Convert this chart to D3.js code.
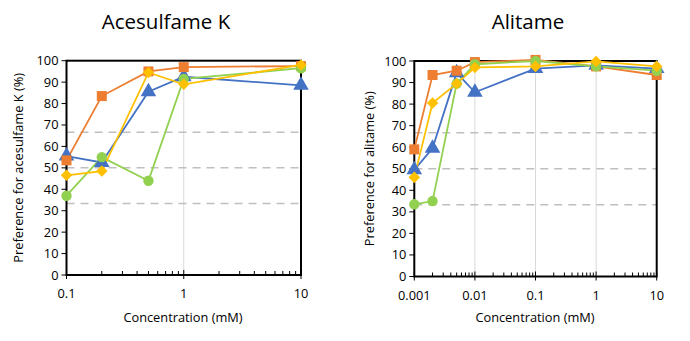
<!DOCTYPE html>
<html><head><meta charset="utf-8">
<script src="https://cdn.jsdelivr.net/npm/d3@7"></script>
<style>body{margin:0;background:#fff}svg{display:block}text{font-family:"Open Sans",sans-serif;fill:#000}</style>
</head><body>
<svg id="c" width="690" height="341"></svg>
<script>
const seriesNames = ["blue","orange","green","yellow"];
const colors = ["#4472C4","#ED7D31","#92D050","#FFC000"];
const shapes = ["triangle","square","circle","diamond"];
const refLines = [33.33, 50, 66.67];
const yTicks = [0,10,20,30,40,50,60,70,80,90,100];

const aceX = [0.1, 0.2, 0.5, 1, 10];
const aceBlue = [55.5, 52.5, 85.5, 92.5, 88.5];
const aceOrange = [53.5, 83.5, 95, 97, 97.5];
const aceGreen = [37, 55, 44, 91.5, 96.5];
const aceYellow = [46.5, 48.5, 94.5, 89, 98];
const aceXTicks = [0.1, 1, 10];

const aliX = [0.001, 0.002, 0.005, 0.01, 0.1, 1, 10];
const aliBlue = [49.5, 59.5, 94.5, 85.5, 96.5, 98, 96.5];
const aliOrange = [59, 93.5, 95.5, 99.5, 100.5, 97.5, 93.5];
const aliGreen = [33.5, 35, 89.5, 98.5, 100, 97.5, 95.5];
const aliYellow = [46, 80.5, 89.5, 97, 97.5, 99.8, 97.5];
const aliXTicks = [0.001, 0.01, 0.1, 1, 10];

const svg = d3.select("#c");
const fmt = d => (d >= 1 ? d3.format("d")(d) : String(d));
const FS = 12.8;

function chart(cfg){
  const {x0,x1,y0,y1,xs,series,xTicks,title,titleX,ylabel,ylabX,xlabX} = cfg;
  const g = svg.append("g");
  const x = d3.scaleLog().domain(d3.extent(xTicks)).range([x0,x1]);
  const y = d3.scaleLinear().domain([0,100]).range([y1,y0]);
  g.selectAll(".vg").data(xTicks.slice(1,-1)).join("line")
    .attr("x1",d=>x(d)).attr("x2",d=>x(d)).attr("y1",y0).attr("y2",y1)
    .attr("stroke","#d9d9d9").attr("stroke-width",1);
  g.selectAll(".rl").data(refLines).join("line")
    .attr("x1",x0).attr("x2",x1).attr("y1",d=>y(d)).attr("y2",d=>y(d))
    .attr("stroke","#bfbfbf").attr("stroke-width",1.5).attr("stroke-dasharray","8,6");
  const lo = Math.log10(xTicks[0]), hi = Math.log10(xTicks[xTicks.length-1]);
  const minor = [];
  for(let e=lo;e<hi;e++){ for(let m=2;m<=9;m++) minor.push(m*Math.pow(10,e)); }
  g.selectAll(".mt").data(minor).join("line")
    .attr("x1",d=>x(d)).attr("x2",d=>x(d)).attr("y1",y1).attr("y2",y1-4)
    .attr("stroke","#000").attr("stroke-width",1);
  g.selectAll(".Mt").data(xTicks).join("line")
    .attr("x1",d=>x(d)).attr("x2",d=>x(d)).attr("y1",y1+4).attr("y2",y1-5)
    .attr("stroke","#000").attr("stroke-width",1);
  g.selectAll(".yt").data(yTicks).join("line")
    .attr("x1",x0-5).attr("x2",x0).attr("y1",d=>y(d)).attr("y2",d=>y(d))
    .attr("stroke","#000").attr("stroke-width",1);
  g.selectAll(".yl").data(yTicks).join("text")
    .attr("x",x0-8).attr("y",d=>y(d)+4.5).attr("text-anchor","end")
    .attr("font-size",FS).text(d=>d);
  g.selectAll(".xl").data(xTicks).join("text")
    .attr("x",d=>x(d)).attr("y",y1+23).attr("text-anchor","middle")
    .attr("font-size",FS).text(fmt);
  g.append("rect").attr("x",x0).attr("y",y0).attr("width",x1-x0).attr("height",y1-y0)
    .attr("fill","none").attr("stroke","#000").attr("stroke-width",2);
  const line = d3.line().x(d=>x(d[0])).y(d=>y(d[1]));
  series.forEach((vals,i)=>{
    const pts = xs.map((xv,j)=>[xv,vals[j]]);
    g.append("path").datum(pts).attr("d",line).attr("fill","none")
      .attr("stroke",colors[i]).attr("stroke-width",1.8);
  });
  series.forEach((vals,i)=>{
    const pts = xs.map((xv,j)=>[xv,vals[j]]);
    const sym = {triangle:d3.symbolTriangle,square:d3.symbolSquare,circle:d3.symbolCircle,diamond:d3.symbolDiamond2}[shapes[i]];
    const size = {triangle:105,square:100,circle:85,diamond:85}[shapes[i]];
    g.selectAll(null).data(pts).join("path")
      .attr("transform",d=>`translate(${x(d[0])},${y(d[1])})`)
      .attr("d",d3.symbol(sym,size)()).attr("fill",colors[i]);
  });
  g.append("text").attr("x",titleX).attr("y",29).attr("text-anchor","middle")
    .attr("font-size",20.5).text(title);
  g.append("text").attr("transform",`translate(${ylabX},${(y0+y1)/2}) rotate(-90)`)
    .attr("text-anchor","middle").attr("font-size",FS).text(ylabel);
  g.append("text").attr("x",xlabX).attr("y",322).attr("text-anchor","middle")
    .attr("font-size",FS).text("Concentration (mM)");
}

chart({x0:66.5,x1:301,y0:60.7,y1:275,xs:aceX,series:[aceBlue,aceOrange,aceGreen,aceYellow],
  xTicks:aceXTicks,title:"Acesulfame K",titleX:166,ylabel:"Preference for acesulfame K (%)",ylabX:23,xlabX:183});
chart({x0:414.3,x1:656.7,y0:61,y1:276.5,xs:aliX,series:[aliBlue,aliOrange,aliGreen,aliYellow],
  xTicks:aliXTicks,title:"Alitame",titleX:528,ylabel:"Preference for alitame (%)",ylabX:374,xlabX:535});
</script>
</body></html>
